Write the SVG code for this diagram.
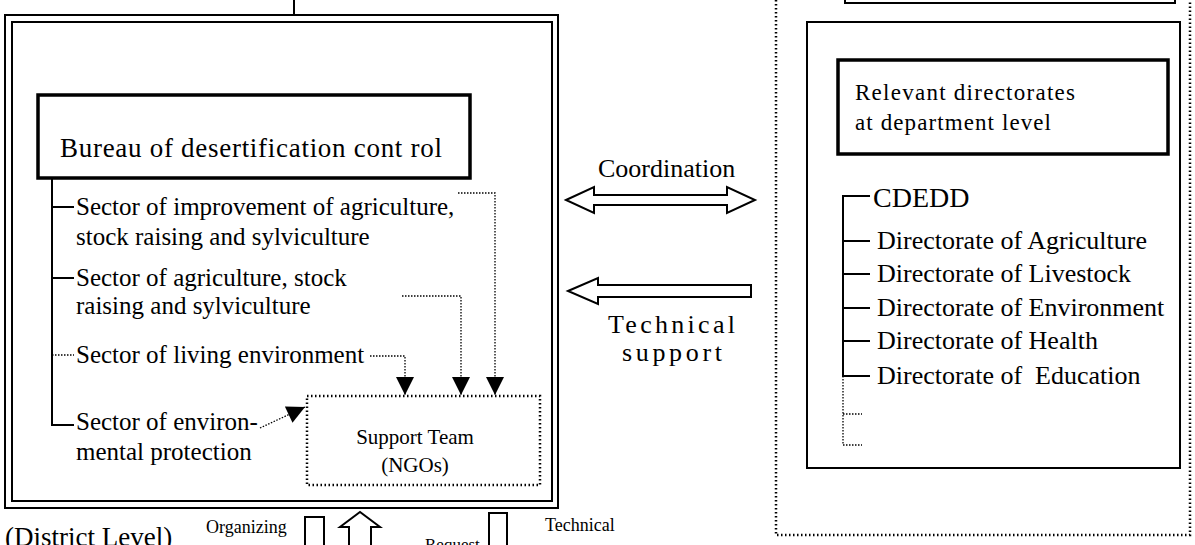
<svg xmlns="http://www.w3.org/2000/svg" width="1195" height="545" viewBox="0 0 1195 545">
<style>
text{font-family:"Liberation Serif","Times New Roman",serif;fill:#000}
.t{font-size:25px}
.s{font-size:26px}
.solid{fill:none;stroke:#000;stroke-width:2}
.thick{fill:none;stroke:#000;stroke-width:3.5}
.dot{fill:none;stroke:#000;stroke-width:2.5;stroke-dasharray:1.5 2.5}
.dotf{fill:none;stroke:#000;stroke-width:1.3;stroke-dasharray:1.5 1.5}
.hollow{fill:#fff;stroke:#000;stroke-width:2}
</style>
<defs>
<marker id="tri" viewBox="0 0 10 10" refX="10" refY="5" markerWidth="20" markerHeight="18" markerUnits="userSpaceOnUse" orient="auto">
<path d="M0,0 L10,5 L0,10 z" fill="#000"/>
</marker>
</defs>
<rect width="1195" height="545" fill="#fff"/>

<g id="district">
<line x1="294" y1="0" x2="294" y2="15" class="solid" stroke-width="2.5"/>
<rect x="5" y="15" width="553" height="493" class="solid" stroke-width="2.5"/>
<rect x="12" y="22" width="540" height="479" class="solid" stroke-width="1.5"/>
</g>

<g id="bureau">
<rect x="38" y="95" width="432" height="83" class="thick"/>
<text x="60" y="157" font-size="27" textLength="382" xml:space="preserve">Bureau of desertification cont rol</text>
</g>

<g id="sectors">
<path d="M52,178 V425 H74" class="solid"/>
<line x1="52" y1="207" x2="74" y2="207" class="solid"/>
<line x1="52" y1="278" x2="74" y2="278" class="solid"/>
<line x1="52" y1="355" x2="74" y2="355" class="dotf"/>
<text class="t" x="76" y="215">Sector of improvement of agriculture,</text>
<text class="t" x="76" y="245">stock raising and sylviculture</text>
<text class="t" x="76" y="286">Sector of agriculture, stock</text>
<text class="t" x="76" y="314">raising and sylviculture</text>
<text class="t" x="76" y="363">Sector of living environment</text>
<text class="t" x="76" y="430">Sector of environ-</text>
<text class="t" x="76" y="460">mental protection</text>
</g>

<g id="support">
<rect x="307" y="396" width="233" height="89" class="dot" stroke-width="3"/>
<text x="415" y="444" font-size="21" text-anchor="middle">Support Team</text>
<text x="415" y="472" font-size="21" text-anchor="middle">(NGOs)</text>
</g>

<g id="connectors">
<path d="M458,193 H495 V395" class="dotf" marker-end="url(#tri)"/>
<path d="M402,296 H461 V395" class="dotf" marker-end="url(#tri)"/>
<path d="M370,356 H405 V395" class="dotf" marker-end="url(#tri)"/>
<path d="M260,428 L305,407" class="dotf" marker-end="url(#tri)"/>
<path d="M566,200 L594,187 V195 H727 V187 L755,200 L727,213 V205 H594 V213 Z" class="hollow"/>
<path d="M568,291 L598,278 V285 H751 V297 H598 V304 Z" class="hollow"/>
</g>

<g id="labels">
<text x="598" y="177" font-size="26">Coordination</text>
<text x="608" y="333" font-size="26" textLength="127">Technical</text>
<text x="622" y="361" font-size="26" textLength="100">support</text>
</g>

<g id="department">
<path d="M776,0 V535 H1190 V0" class="dot"/>
<path d="M845,-5 V3 H1175 V-5" class="solid"/>
<rect x="807" y="22" width="373" height="446" class="solid"/>
</g>

<g id="directorates">
<rect x="838" y="60" width="330" height="94" class="thick"/>
<text x="855" y="100" font-size="23" textLength="220">Relevant directorates</text>
<text x="855" y="130" font-size="23" textLength="196">at department level</text>
</g>

<g id="cdedd">
<path d="M870,196 H843 V376 H870" class="solid"/>
<line x1="843" y1="241" x2="870" y2="241" class="solid"/>
<line x1="843" y1="274" x2="870" y2="274" class="solid"/>
<line x1="843" y1="308" x2="870" y2="308" class="solid"/>
<line x1="843" y1="341" x2="870" y2="341" class="solid"/>
<path d="M843,376 V445 H862 M843,414 H862" class="dotf"/>
<text x="873" y="207" font-size="28">CDEDD</text>
<text class="s" x="877" y="249">Directorate of Agriculture</text>
<text class="s" x="877" y="282">Directorate of Livestock</text>
<text class="s" x="877" y="316">Directorate of Environment</text>
<text class="s" x="877" y="349">Directorate of Health</text>
<text class="s" x="877" y="384" xml:space="preserve">Directorate of  Education</text>
</g>

<g id="bottom">
<text x="5" y="546" font-size="27">(District Level)</text>
<text x="206" y="533" font-size="18">Organizing</text>
<path d="M305,546 V517 H324 V546" class="solid"/>
<path d="M349,546 V527 H340 L360,512 L380,527 H371 V546" class="solid"/>
<text x="425" y="550" font-size="17">Request</text>
<path d="M489,546 V513 H507 V546" class="solid"/>
<text x="545" y="531" font-size="18">Technical</text>
</g>
</svg>
